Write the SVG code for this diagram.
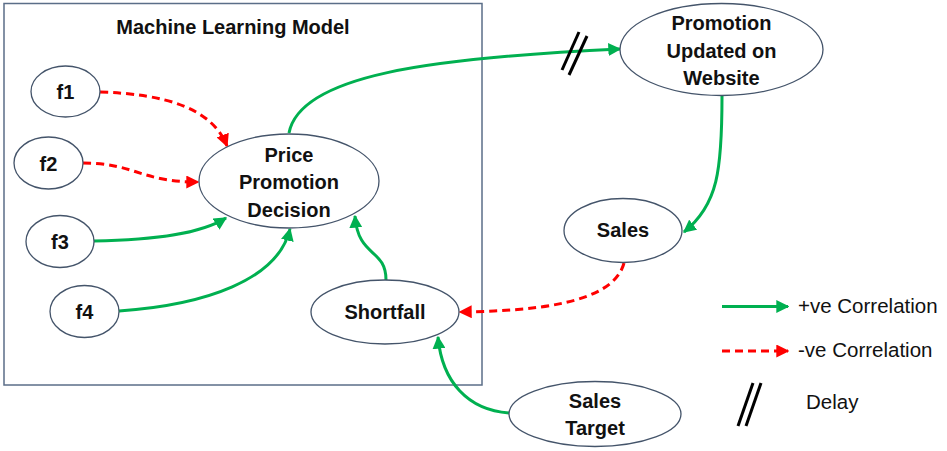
<svg xmlns="http://www.w3.org/2000/svg" width="947" height="451" viewBox="0 0 947 451">
<style>
.node ellipse{fill:#fff;stroke:#44546A;stroke-width:1.3}
.lbl{font-family:"Liberation Sans",Arial,sans-serif;font-weight:bold;font-size:20px;fill:#111;text-anchor:middle}
.leg{font-family:"Liberation Sans",Arial,sans-serif;font-size:20.5px;fill:#111}
.pos{fill:none;stroke:#00B050;stroke-width:3}
.neg{fill:none;stroke:#FF0000;stroke-width:3;stroke-dasharray:8 5}
.delay{stroke:#000;stroke-width:3}
</style>
<defs>
<marker id="ag" viewBox="0 0 10 10" refX="9" refY="5" markerWidth="13" markerHeight="13" markerUnits="userSpaceOnUse" orient="auto"><path d="M0,0L10,5L0,10Z" fill="#00B050"/></marker>
<marker id="ar" viewBox="0 0 10 10" refX="9" refY="5" markerWidth="13" markerHeight="13" markerUnits="userSpaceOnUse" orient="auto"><path d="M0,0L10,5L0,10Z" fill="#FF0000"/></marker>
</defs>
<rect width="947" height="451" fill="#fff"/>
<g id="ml-box">
<rect x="4" y="3.5" width="478" height="381.5" fill="none" stroke="#5B6E88" stroke-width="1.5"/>
<text class="lbl" x="233" y="34">Machine Learning Model</text>
</g>
<g id="connectors">
<path class="neg" d="M100,92 C165,94 212,108 227,146" marker-end="url(#ar)"/>
<path class="neg" d="M83,163 C135,163 140,182 198,182" marker-end="url(#ar)"/>
<path class="pos" d="M94,241 C155,240 200,234 226,218" marker-end="url(#ag)"/>
<path class="pos" d="M119,311 C205,305 278,280 290,229" marker-end="url(#ag)"/>
<path class="pos" d="M386,280 C386,248 358,258 355,216" marker-end="url(#ag)"/>
<path class="pos" d="M289,133 C300,75 430,58 620,49" marker-end="url(#ag)"/>
<path class="pos" d="M722,96 C722,170 718,205 684,232" marker-end="url(#ag)"/>
<path class="neg" d="M624,263 C613,305 530,311 460,312" marker-end="url(#ar)"/>
<path class="pos" d="M509,413 C468,410 442,382 438,337" marker-end="url(#ag)"/>
<line class="delay" x1="579" y1="32" x2="562" y2="70"/>
<line class="delay" x1="587" y1="36" x2="569" y2="75"/>
</g>
<g id="f1" class="node"><ellipse cx="65.5" cy="91.5" rx="34.5" ry="25.5"/><text class="lbl" x="65.5" y="99">f1</text></g>
<g id="f2" class="node"><ellipse cx="48.5" cy="163" rx="34.5" ry="26"/><text class="lbl" x="48.5" y="171">f2</text></g>
<g id="f3" class="node"><ellipse cx="60" cy="241.5" rx="34" ry="26"/><text class="lbl" x="60" y="249">f3</text></g>
<g id="f4" class="node"><ellipse cx="84.5" cy="311.5" rx="34.5" ry="26"/><text class="lbl" x="84.5" y="319">f4</text></g>
<g id="ppd" class="node"><ellipse cx="289" cy="181" rx="90" ry="47"/>
<text class="lbl" x="289" y="162">Price</text><text class="lbl" x="289" y="189">Promotion</text><text class="lbl" x="289" y="217">Decision</text></g>
<g id="shortfall" class="node"><ellipse cx="385" cy="312" rx="74" ry="32"/><text class="lbl" x="385" y="319">Shortfall</text></g>
<g id="puw" class="node"><ellipse cx="721.5" cy="49.5" rx="101.5" ry="46"/>
<text class="lbl" x="721.5" y="30">Promotion</text><text class="lbl" x="721.5" y="58">Updated on</text><text class="lbl" x="721.5" y="85">Website</text></g>
<g id="sales" class="node"><ellipse cx="623" cy="230.5" rx="59" ry="32"/><text class="lbl" x="623" y="237">Sales</text></g>
<g id="target" class="node"><ellipse cx="595" cy="414" rx="86" ry="32.5"/>
<text class="lbl" x="595" y="408">Sales</text><text class="lbl" x="595" y="435">Target</text></g>
<g id="legend">
<line class="pos" x1="722" y1="306.5" x2="788" y2="306.5" marker-end="url(#ag)"/>
<text class="leg" x="798" y="313">+ve Correlation</text>
<line class="neg" x1="722" y1="351" x2="788" y2="351" marker-end="url(#ar)"/>
<text class="leg" x="798" y="357">-ve Correlation</text>
<line class="delay" x1="753" y1="383" x2="738" y2="426"/>
<line class="delay" x1="761" y1="383" x2="746" y2="426"/>
<text class="leg" x="806" y="409">Delay</text>
</g>
</svg>
